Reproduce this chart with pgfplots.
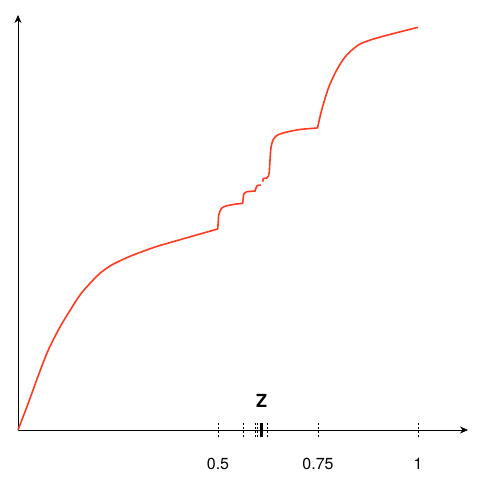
\documentclass[border=0pt]{standalone}
\usepackage{pgfplots}
\pgfplotsset{compat=1.18}
\usepackage{fontspec}
\setmainfont{TeX Gyre Heros}
\usetikzlibrary{arrows.meta}
\definecolor{curvered}{RGB}{255,58,30}
\begin{document}
\begin{tikzpicture}
\useasboundingbox (-18pt,-56pt) rectangle (466pt,430pt);
\begin{axis}[
  at={(0pt,0pt)}, anchor=origin,
  x=400pt, y=400pt,
  xmin=0, xmax=1.125, ymin=0, ymax=1.0375,
  axis lines=left,
  axis line style={black, line width=0.8pt, -{Stealth[length=8pt,width=7pt]}},
  ytick=\empty,
  xtick={0.5,0.5633,0.5925,0.5992,0.6242,0.75,1},
  xticklabels={0.5,,,,,0.75,1},
  xtick align=center,
  major tick length=14pt,
  tick style={black, line width=1pt, dash pattern=on 2pt off 2pt},
  extra x ticks={0.6092},
  extra x tick labels={},
  extra x tick style={tick style={black, solid, line width=2.5pt}},
  xticklabel style={anchor=center, yshift=-27pt, font=\fontsize{16}{19}\selectfont},
  /pgf/number format/assume math mode=true,
  clip=false,
]
% smooth part from 0 to 0.5
\addplot[curvered, line width=1.6pt, smooth, tension=0.5] coordinates {
(0,0) (0.0258,0.0675) (0.0508,0.1363) (0.0758,0.2) (0.105,0.2575)
(0.13,0.2988) (0.155,0.3375) (0.18,0.3667) (0.205,0.3918) (0.23,0.41)
(0.255,0.423) (0.28,0.4343) (0.305,0.4438) (0.33,0.453) (0.355,0.4613)
(0.43,0.4828) (0.4993,0.5025)
};
% steps
\addplot[curvered, line width=1.6pt] coordinates {
(0.4993,0.5025)
(0.5005,0.52) (0.5018,0.5375) (0.5035,0.543) (0.505,0.5475) (0.5075,0.552) (0.51,0.555) (0.515,0.558) (0.52,0.56)
(0.5375,0.5638) (0.5617,0.5668)
(0.5628,0.5775) (0.5638,0.5875) (0.5655,0.5912) (0.5675,0.5933) (0.5725,0.5958) (0.5925,0.5975)
(0.595,0.605) (0.5975,0.61) (0.6013,0.612) (0.6068,0.6125)
};
\addplot[curvered, line width=1.6pt] coordinates {
(0.6118,0.6208) (0.6133,0.6288) (0.6163,0.6293) (0.6218,0.63) (0.6263,0.635)
(0.6283,0.645) (0.63,0.675)
};
\addplot[curvered, line width=1.6pt, smooth, tension=0.5] coordinates {
(0.63,0.675) (0.6318,0.7) (0.6338,0.7125) (0.6375,0.725)
(0.6438,0.7338) (0.655,0.74) (0.6725,0.745) (0.705,0.7513) (0.7488,0.755)
};
\addplot[curvered, line width=1.6pt, smooth, tension=0.5] coordinates {
(0.7488,0.755) (0.7592,0.8) (0.7758,0.8542) (0.7925,0.8917) (0.8092,0.9208)
(0.8258,0.9417) (0.8508,0.9625) (0.8758,0.9733) (0.9092,0.9833) (0.9508,0.9942)
(1,1.0068)
};
\node[font=\fontsize{18}{21}\selectfont\bfseries] at (axis cs:0.6092,0.0725) {Z};
\end{axis}
\end{tikzpicture}
\end{document}
